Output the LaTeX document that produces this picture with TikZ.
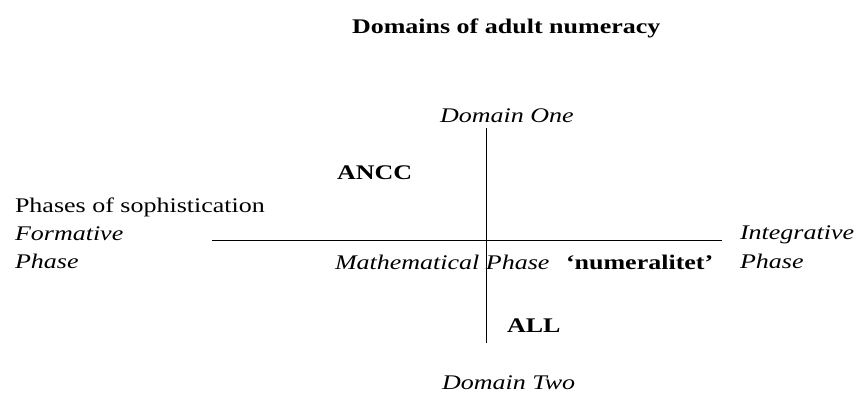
\documentclass[tikz,border=0pt]{standalone}
\usepackage{fontspec}
\setmainfont{Liberation Serif}
\begin{document}
\begin{tikzpicture}[x=1pt,y=-1pt,
  lbl/.style={inner sep=0pt, outer sep=0pt, anchor=base west, yscale=0.8, font=\fontsize{26}{30}\selectfont},
  ilbl/.style={lbl, font=\fontsize{26}{30}\selectfont\itshape},
  blbl/.style={lbl, font=\fontsize{26}{30}\selectfont\bfseries},
  ttl/.style={lbl, font=\fontsize{26}{30}\selectfont\bfseries},
  axis/.style={draw=black, line width=0.8pt}]
\useasboundingbox (0,0) rectangle (859,394);
\node[ttl] (title) at (352,33) {Domains of adult numeracy};
\node[ilbl] (d1) at (440,122) {Domain One};
\node[blbl] (ancc) at (337,179) {ANCC};
\node[lbl] (phases) at (15,212) {Phases of sophistication};
\node[ilbl] (form) at (15,240) {Formative};
\node[ilbl] (formp) at (15,268) {Phase};
\node[ilbl] (integ) at (740,239) {Integrative};
\node[ilbl] (integp) at (740,268) {Phase};
\node[ilbl] (math) at (335,269) {Mathematical Phase};
\node[blbl] (num) at (566,269) {`numeralitet'};
\node[blbl] (all) at (507,332) {ALL};
\node[ilbl] (d2) at (442,389) {Domain Two};
\coordinate (top) at (486,128);
\coordinate (bot) at (486,343);
\coordinate (left) at (212,240);
\coordinate (right) at (722,240);
\draw[axis] (top) -- (bot);
\draw[axis] (left) -- (right);
\end{tikzpicture}
\end{document}
